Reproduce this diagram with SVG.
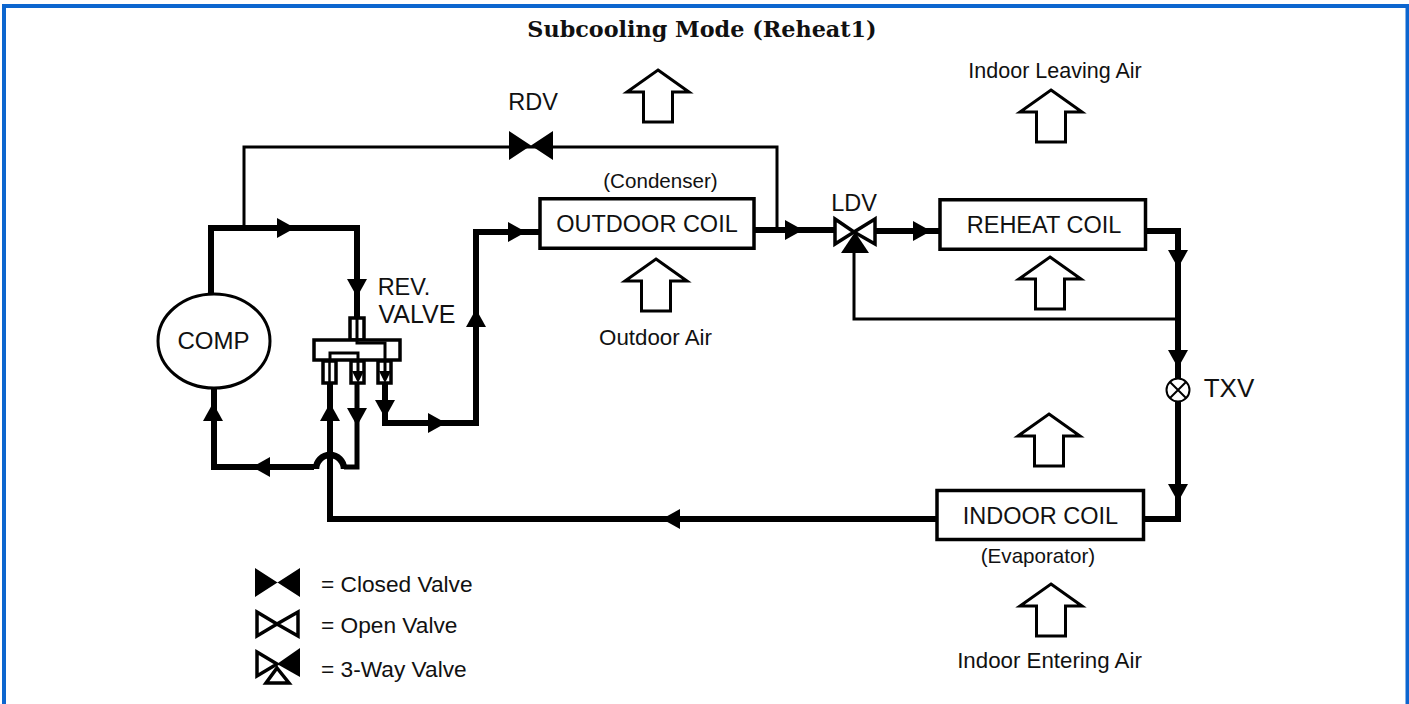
<svg xmlns="http://www.w3.org/2000/svg" width="1409" height="704" viewBox="0 0 1409 704">
<style>
text{font-family:"Liberation Sans",Arial,sans-serif;font-size:23.5px;fill:#111;text-anchor:middle}
.s{font-size:20.6px}
.m{font-size:22.3px}
.l{text-anchor:start;font-size:22.7px}
.thick{fill:none;stroke:#000;stroke-width:6;stroke-linejoin:miter}
.thin{fill:none;stroke:#000;stroke-width:3}
.box{fill:#fff;stroke:#000;stroke-width:3.5}
.air{fill:#fff;stroke:#000;stroke-width:3;stroke-linejoin:miter}
.blk{fill:#000}
.open{fill:#fff;stroke:#000;stroke-width:3.5}
</style>
<defs>
<path id="air" class="air" d="M0 0 L31 22 H14.5 V52 H-14.5 V22 H-31 Z"/>
<path id="ad" class="blk" d="M-10 0 H10 L0 18 Z"/>
<path id="au" class="blk" d="M-10 0 H10 L0 -18 Z"/>
<path id="ar" class="blk" d="M0 -10 V10 L18 0 Z"/>
<path id="al" class="blk" d="M0 -10 V10 L-18 0 Z"/>
</defs>
<rect x="4" y="6" width="1403.5" height="720" fill="#fff" stroke="#0d66cf" stroke-width="4"/>
<text x="702" y="37" style="font-family:'DejaVu Serif',serif;font-weight:700;font-size:22.3px">Subcooling Mode (Reheat1)</text>

<g id="connectors">
<path class="thin" d="M244 228 V147 H777 V229"/>
<path class="thin" d="M1178 319 H854 V250"/>
<path class="thick" d="M211 296 V228 H357 V318"/>
<path class="thick" d="M214 386 V467 H314"/>
<path d="M344 467 H357 V384" fill="none" stroke="#000" stroke-width="5"/>
<path class="thick" d="M330 384 V519 H937"/>
<path class="thick" d="M385 384 V423 H476 V232 H540"/>
<path class="thick" d="M755 230 H834"/>
<path class="thick" d="M876 231 H940"/>
<path class="thick" d="M1145 231 H1178 V519 H1145"/>
<path d="M316 469 A14 14 0 0 1 344 469" fill="none" stroke="#000" stroke-width="6.5"/>
<use href="#ad" x="357" y="279"/>
<use href="#ad" x="357" y="408"/>
<use href="#ad" x="385" y="400"/>
<use href="#ad" x="1178" y="250"/>
<use href="#ad" x="1178" y="350"/>
<use href="#ad" x="1178" y="484"/>
<use href="#ar" x="277" y="228"/>
<use href="#ar" x="428" y="423"/>
<use href="#ar" x="508" y="232"/>
<use href="#ar" x="785" y="230"/>
<use href="#ar" x="913" y="231"/>
<use href="#al" x="270" y="467"/>
<use href="#al" x="680" y="519"/>
<use href="#au" x="330" y="421"/>
<use href="#au" x="476" y="327"/>
<use href="#au" x="213" y="421"/>
</g>

<g id="comp"><ellipse cx="214" cy="341" rx="56" ry="47" fill="#fff" stroke="#000" stroke-width="3"/><text x="213.500" y="349" style="font-size:24px">COMP</text></g>

<g id="rev-valve">
<text x="404" y="295">REV.</text><text x="417" y="323" style="font-size:25px">VALVE</text>
<rect x="350" y="318" width="14" height="22" class="box"/>
<rect x="314" y="340" width="86" height="20" class="box"/>
<path class="thin" d="M357 318 V343 H385 V360 M330 360 V353 H358 V360"/>
<rect x="323" y="361" width="13" height="22" class="box"/>
<rect x="351" y="361" width="13" height="22" class="box"/>
<rect x="378" y="361" width="13" height="22" class="box"/>
<path d="M329.500 361 V383" stroke="#000" stroke-width="2.500"/>
<path class="blk" d="M352 371 H364 L358 383Z M379 371 H391 L385 383Z"/>
<path class="thin" d="M358 361 V372 M385 361 V372"/>
</g>

<g id="rdv"><text x="533" y="110">RDV</text><path class="blk" d="M509 131 L553 160 V131 L509 160Z"/></g>

<g id="ldv"><text x="854" y="211">LDV</text>
<path class="open" d="M835 219 L854 232 L835 244Z M875 219 L854 232 L875 244Z"/>
<path class="blk" d="M855 232 L869 253 H841Z"/></g>

<g id="outdoor-coil"><rect x="540" y="198.750" width="214" height="49.500" class="box"/><text x="647" y="232">OUTDOOR COIL</text><text class="s" x="660.500" y="188">(Condenser)</text></g>
<g id="reheat-coil"><rect x="940" y="199.750" width="205.500" height="49.500" class="box"/><text x="1044" y="233">REHEAT COIL</text></g>
<g id="indoor-coil"><rect x="937" y="490.500" width="206.500" height="49" class="box"/><text x="1040.500" y="524">INDOOR COIL</text><text class="s" x="1038" y="563">(Evaporator)</text></g>

<g id="txv"><circle cx="1178" cy="390" r="11.500" fill="#fff" stroke="#000" stroke-width="2"/><path d="M1170 382 L1186 398 M1186 382 L1170 398" stroke="#000" stroke-width="2"/><text x="1229" y="397" style="font-size:26px">TXV</text></g>

<g id="air-arrows">
<use href="#air" x="658" y="70"/>
<use href="#air" x="1051" y="90"/>
<use href="#air" x="656" y="259"/>
<use href="#air" x="1050" y="257"/>
<use href="#air" x="1049" y="414"/>
<use href="#air" x="1051" y="584"/>
</g>
<text class="m" x="655.500" y="345">Outdoor Air</text>
<text x="1055" y="78" style="font-size:21.500px">Indoor Leaving Air</text>
<text class="m" x="1049.500" y="668">Indoor Entering Air</text>

<g id="legend">
<path class="blk" d="M255 568 L300 597 V568 L255 597Z"/>
<text class="l" x="321" y="592">= Closed Valve</text>
<path class="open" d="M257 612 L277 624 L257 636Z M298 612 L277 624 L298 636Z"/>
<text class="l" x="321" y="633">= Open Valve</text>
<path class="open" d="M257 652 L277 664 L257 676Z"/>
<path class="blk" d="M300 648 L277 664 L300 677Z"/>
<path class="open" d="M277 668 L289 683 H266Z"/>
<text class="l" x="321" y="677">= 3-Way Valve</text>
</g>
</svg>
